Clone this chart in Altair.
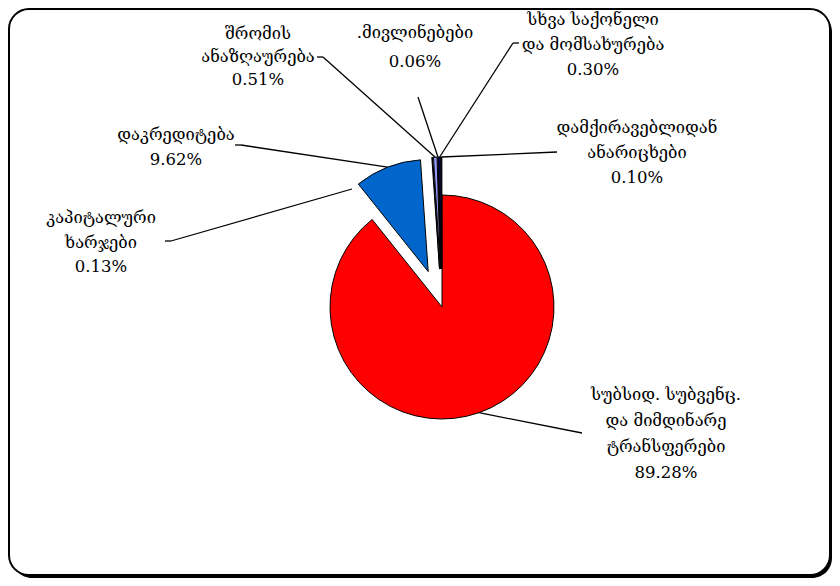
import numpy as np
import pandas as pd
import altair as alt

# ---------------- data ----------------
names = ["subsidies", "credit", "capital", "labor", "travel", "goods", "deductions"]
values = [89.28, 9.62, 0.13, 0.51, 0.06, 0.30, 0.10]
label_lines = [
    ["სუბსიდ.  სუბვენც.", "და  მიმდინარე", "ტრანსფერები"],
    ["დაკრედიტება"],
    ["კაპიტალური", "ხარჯები"],
    ["შრომის", "ანაზღაურება"],
    [".მივლინებები"],
    ["სხვა  საქონელი", "და  მომსახურება"],
    ["დამქირავებლიდან", "ანარიცხები"],
]

# ---------------- style / layout ----------------
colors = ["#FF0000", "#0066CC", "#000000", "#9999FF", "#660066", "#000080", "#333333"]
explode = [0, 38, 38, 38, 38, 38, 38]
W, H = 824, 570
CX, CY, R = 434, 299, 112
FONT = "DejaVu Serif"
FS = 16.5

lab_x = [658, 168, 93, 250, 407, 585, 629]
lab_y0 = [387, 127, 210, 26, 25, 12, 120]
lab_lh = [26, 25, 24.5, 23, 29, 25, 25]
# leader-line points on the label side
lead_pts = [
    [(574, 425)],
    [(227, 137), (233, 137)],
    [(157, 233), (163, 233)],
    [(309, 49), (315, 49)],
    [(410, 89)],
    [(511, 35), (505, 35)],
    [(549, 144)],
]
lead_end_override = {2: (344, 181)}

# ---------------- derived tables ----------------
vals = np.array(values)
cum = np.cumsum(vals)
start = cum - vals
mid = (start + cum) / 2.0
ang = mid / 100.0 * 2 * np.pi
ex = np.array(explode, dtype=float)
cxs = CX + ex * np.sin(ang)
cys = CY - ex * np.cos(ang)

pie_df = pd.DataFrame({
    "name": names, "value": values, "start": start, "end": cum,
    "cx": cxs, "cy": cys, "color": colors,
})

text_rows = []
seg_rows = []
for i, v in enumerate(values):
    lines = label_lines[i] + [f"{v:.2f}%"]
    for j, t in enumerate(lines):
        text_rows.append({"x": lab_x[i], "y": lab_y0[i] + j * lab_lh[i], "text": t})
    if i in lead_end_override:
        end_pt = lead_end_override[i]
    else:
        end_pt = (cxs[i] + R * np.sin(ang[i]), cys[i] - R * np.cos(ang[i]))
    pts = lead_pts[i] + [end_pt]
    for a, b in zip(pts[:-1], pts[1:]):
        seg_rows.append({"x": a[0], "y": a[1], "x2": b[0], "y2": b[1]})

text_df = pd.DataFrame(text_rows)
seg_df = pd.DataFrame(seg_rows)

# ---------------- chart ----------------
shadow = alt.Chart(pd.DataFrame({"k": [0]})).mark_rect(
    cornerRadius=20, fill="#000000"
).encode(x=alt.value(4), x2=alt.value(824), y=alt.value(4), y2=alt.value(570))

frame = alt.Chart(pd.DataFrame({"k": [0]})).mark_rect(
    cornerRadius=20, fill="white", stroke="black", strokeWidth=2
).encode(x=alt.value(1), x2=alt.value(822), y=alt.value(1), y2=alt.value(567))

arcs = alt.Chart(pie_df).mark_arc(
    outerRadius=R, stroke="black", strokeWidth=1
).encode(
    theta=alt.Theta("start:Q", scale=alt.Scale(domain=[0, 100], range=[0, 2 * np.pi])),
    theta2=alt.Theta2("end:Q"),
    x=alt.X("cx:Q", scale=None),
    y=alt.Y("cy:Q", scale=None),
    color=alt.Color("color:N", scale=None),
)

rules = alt.Chart(seg_df).mark_rule(color="black", strokeWidth=1.3).encode(
    x=alt.X("x:Q", scale=None), y=alt.Y("y:Q", scale=None),
    x2="x2:Q", y2="y2:Q",
)

texts = alt.Chart(text_df).mark_text(
    font=FONT, fontSize=FS, align="center", baseline="middle", color="black"
).encode(
    x=alt.X("x:Q", scale=None), y=alt.Y("y:Q", scale=None), text="text:N"
)

chart = alt.layer(shadow, frame, arcs, rules, texts).properties(
    width=W, height=H, padding=0, autosize=alt.AutoSizeParams(type="none")
).configure_view(stroke=None)

chart.save("out.html", embed_options={"renderer": "svg", "actions": False})
